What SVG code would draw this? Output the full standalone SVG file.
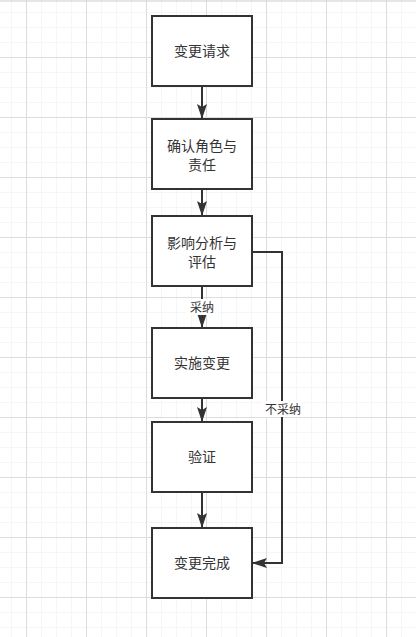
<svg xmlns="http://www.w3.org/2000/svg" width="416" height="637" viewBox="0 0 416 637">
<defs>
<pattern id="minor" x="11" y="12" width="15" height="15" patternUnits="userSpaceOnUse">
<path d="M0 0H15M0 0V15" fill="none" stroke="#eeeeee" stroke-width="1"/>
</pattern>
<pattern id="major" x="26" y="-3" width="60" height="60" patternUnits="userSpaceOnUse">
<path d="M0 0.5H60M0.5 0V60" fill="none" stroke="#dddddd" stroke-width="1"/>
</pattern>
<marker id="arrow" viewBox="0 0 15 12" refX="15" refY="6" markerWidth="15" markerHeight="12" markerUnits="userSpaceOnUse" orient="auto">
<path d="M0 1L15 6L0 11L3 6Z" fill="#333333"/>
</marker>
<style>
.box{fill:#ffffff;stroke:#333333;stroke-width:2}
.t{font-family:"Noto Sans CJK SC","Liberation Sans",sans-serif;font-size:14px;fill:#333333;text-anchor:middle}
.lbl{font-family:"Noto Sans CJK SC","Liberation Sans",sans-serif;font-size:12px;fill:#333333;text-anchor:middle}
.edge{fill:none;stroke:#333333;stroke-width:2}
</style>
</defs>
<rect width="416" height="637" fill="#ffffff"/>
<rect width="416" height="637" fill="url(#minor)"/>
<rect width="416" height="637" fill="url(#major)"/>
<line x1="0" y1="1" x2="416" y2="1" stroke="#cccccc"/>
<g id="connectors">
<path class="edge" d="M202 86V119" marker-end="url(#arrow)"/>
<path class="edge" d="M202 189V216" marker-end="url(#arrow)"/>
<path class="edge" d="M202 286V328" marker-end="url(#arrow)"/>
<path class="edge" d="M202 398V422" marker-end="url(#arrow)"/>
<path class="edge" d="M202 492V528" marker-end="url(#arrow)"/>
<path class="edge" d="M252 252H282V563H252" marker-end="url(#arrow)"/>
<rect x="186" y="299" width="32" height="16" fill="#ffffff"/>
<text class="lbl" x="202" y="312">采纳</text>
<rect x="262" y="401" width="41" height="16" fill="#ffffff"/>
<text class="lbl" x="283" y="414">不采纳</text>
</g>
<g id="n1"><rect class="box" x="152" y="16" width="100" height="70"/><text class="t" x="202" y="56">变更请求</text></g>
<g id="n2"><rect class="box" x="152" y="119" width="100" height="70"/><text class="t" x="202" y="151">确认角色与</text><text class="t" x="202" y="170">责任</text></g>
<g id="n3"><rect class="box" x="152" y="216" width="100" height="70"/><text class="t" x="202" y="248">影响分析与</text><text class="t" x="202" y="267">评估</text></g>
<g id="n4"><rect class="box" x="152" y="328" width="100" height="70"/><text class="t" x="202" y="368">实施变更</text></g>
<g id="n5"><rect class="box" x="152" y="422" width="100" height="70"/><text class="t" x="202" y="462">验证</text></g>
<g id="n6"><rect class="box" x="152" y="528" width="100" height="70"/><text class="t" x="202" y="568">变更完成</text></g>
</svg>
